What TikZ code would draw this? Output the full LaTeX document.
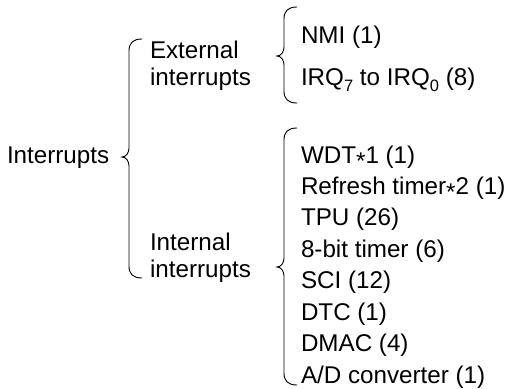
\documentclass[tikz,border=0pt]{standalone}
\usepackage{fontspec}
\setmainfont{Liberation Sans}
\newcommand{\drawbrace}[4]{% x of stem, top, bottom, y of tip
  \draw[bracestroke] ({#1+13},#2) .. controls ({#1+4},#2) and (#1,{#2+4}) .. (#1,{#2+12})
    -- (#1,{#4-9}) .. controls (#1,{#4-4}) and ({#1-3},#4) .. ({#1-7},#4)
    .. controls ({#1-3},#4) and (#1,{#4+4}) .. (#1,{#4+9})
    -- (#1,{#3-12}) .. controls (#1,{#3-4}) and ({#1+4},#3) .. ({#1+13},#3);}
\newcommand{\lowstar}{\raisebox{-0.25em}{*}}
\newcommand{\lowsub}[1]{\raisebox{-0.27em}{\fontsize{16.5}{16.5}\selectfont #1}}
\begin{document}
\begin{tikzpicture}[x=1pt,y=-1pt,
  lbl/.style={anchor=base west, inner sep=0pt, outer sep=0pt,
              font=\fontsize{24.2}{28}\selectfont},
  bracestroke/.style={line width=0.9pt, line cap=round}]
\useasboundingbox (0,0) rectangle (508,388);
% left column
\node[lbl] (root) at (7,163) {Interrupts};
\node[lbl] (ext1) at (150,58) {External};
\node[lbl] (ext2) at (150,85) {interrupts};
\node[lbl] (int1) at (150,250) {Internal};
\node[lbl] (int2) at (150,277) {interrupts};
% external sources
\node[lbl] (nmi) at (301,43) {NMI (1)};
\node[lbl] (irq) at (301,85) {IRQ\lowsub{7} to IRQ\lowsub{0} (8)};
% internal sources
\node[lbl] (wdt) at (301,163.0) {WDT\lowstar1 (1)};
\node[lbl] (ref) at (301,194.4) {Refresh timer\lowstar2 (1)};
\node[lbl] (tpu) at (301,225.9) {TPU (26)};
\node[lbl] (tmr) at (301,257.3) {8-bit timer (6)};
\node[lbl] (sci) at (301,288.7) {SCI (12)};
\node[lbl] (dtc) at (301,320.1) {DTC (1)};
\node[lbl] (dma) at (301,351.6) {DMAC (4)};
\node[lbl] (adc) at (301,383.0) {A/D converter (1)};
% braces
\drawbrace{129}{39}{278}{157}
\drawbrace{284}{7}{103}{56}
\drawbrace{284}{128}{385}{267}
\end{tikzpicture}
\end{document}
